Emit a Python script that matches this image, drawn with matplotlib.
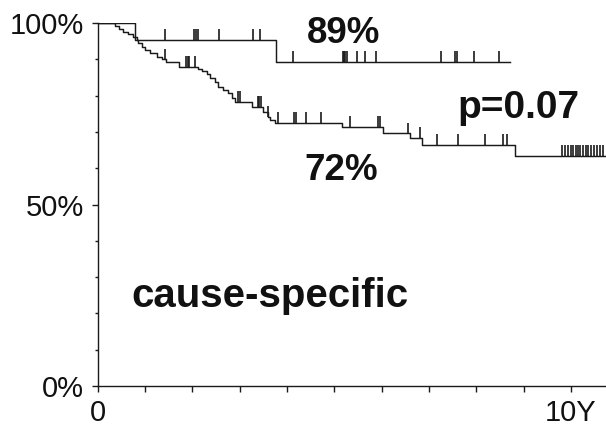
import numpy as np
import matplotlib
matplotlib.use("Agg")
import matplotlib.pyplot as plt
from matplotlib.ticker import FixedLocator, FixedFormatter

# ---- data (years, survival %) ----
upper_t = [0, 0.79, 3.77, 8.71]
upper_s = [100, 95.3, 89.3, 89.3]
upper_cens = [0.55, 0.63, 0.69, 1.43, 2.04, 2.08, 2.12, 2.57, 3.29, 3.43,
              4.13, 5.18, 5.21, 5.23, 5.27, 5.48, 5.65, 5.88, 7.26, 7.55,
              7.59, 7.95, 8.48]

lower_t = [0, 0.37, 0.45, 0.54, 0.64, 0.75, 0.83, 0.86, 0.93, 1.00,
           1.11, 1.25, 1.36, 1.45, 1.71, 2.12, 2.21, 2.31, 2.38, 2.48,
           2.54, 2.65, 2.76, 2.84, 2.90, 3.26, 3.50, 3.59, 3.64, 3.75,
           5.16, 6.03, 6.60, 6.85, 8.82, 10.74]
lower_s = [100, 99.2, 98.3, 97.6, 96.9, 96.2, 95.3, 94.4, 93.5, 92.6,
           91.7, 90.7, 90.0, 89.3, 88.0, 87.4, 86.8, 86.0, 84.8, 83.7,
           82.4, 81.5, 80.7, 79.3, 78.2, 76.9, 75.5, 74.1, 73.3, 72.5,
           71.4, 69.6, 68.3, 66.4, 63.4, 63.4]
lower_cens = [1.43, 1.87, 1.90, 1.93, 2.06, 2.97, 3.01, 3.38, 3.42, 3.46,
              3.61, 3.81, 4.15, 4.19, 4.40, 4.72, 5.33, 5.93, 5.97, 6.56,
              6.81, 7.17, 7.61, 8.18, 8.56, 8.65,
              9.82, 9.88, 9.94, 10.00, 10.05, 10.10, 10.15, 10.20, 10.26,
              10.32, 10.37, 10.42, 10.48, 10.55, 10.62, 10.68]

y_ticks = [0, 50, 100]
y_labels = ["0%", "50%", "100%"]
y_minor = [10, 20, 30, 40, 60, 70, 80, 90]
x_ticks = [0, 1, 2, 3, 4, 5, 6, 7, 8, 9, 10]
x_labels = ["0", "", "", "", "", "", "", "", "", "", "10Y"]

annotations = [("89%", 5.19, 94.4), ("72%", 5.15, 56.7), ("p=0.07", 8.90, 73.8),
               ("cause-specific", 3.64, 21.8)]
ann_sizes = [26.5, 26.5, 28, 29]

# ---- figure ----
fig = plt.figure(figsize=(6.06, 4.28), dpi=100)
ax = fig.add_axes([0.161, 0.098, 0.839, 0.848])
col = "#1a1a1a"
lw = 1.05


def surv_at(ts, ss, t):
    idx = np.searchsorted(ts, t, side="right") - 1
    return np.asarray(ss)[idx]


for ts, ss, cens in [(upper_t, upper_s, upper_cens), (lower_t, lower_s, lower_cens)]:
    ax.step(ts, ss, where="post", color=col, lw=lw)
    cs = surv_at(np.asarray(ts), ss, np.asarray(cens))
    ax.vlines(cens, cs, cs + 3.0, color=col, lw=1.2)

ax.set_xlim(0, 10.74)
ax.set_ylim(0, 100)

for s in ["top", "right"]:
    ax.spines[s].set_visible(False)
ax.spines["left"].set_bounds(0, 100)
for s in ["left", "bottom"]:
    ax.spines[s].set_color(col)
    ax.spines[s].set_linewidth(1.0)

tick_family = ["Liberation Sans Narrow", "Liberation Sans"]
ax.yaxis.set_major_locator(FixedLocator(y_ticks))
ax.yaxis.set_major_formatter(FixedFormatter(y_labels))
ax.yaxis.set_minor_locator(FixedLocator(y_minor))
ax.xaxis.set_major_locator(FixedLocator(x_ticks))
ax.xaxis.set_major_formatter(FixedFormatter(x_labels))
ax.tick_params(axis="both", which="major", direction="out", length=4,
               width=1.0, color=col, labelcolor="#111111")
ax.tick_params(axis="y", which="minor", direction="out", length=2.5, width=1.0, color=col)
ax.tick_params(axis="y", which="major", pad=6)
ax.tick_params(axis="x", which="major", pad=5)
for lab in ax.get_xticklabels() + ax.get_yticklabels():
    lab.set_fontfamily(tick_family)
    lab.set_fontsize(21)

for (txt, tx, ty), fs in zip(annotations, ann_sizes):
    ax.text(tx, ty, txt, ha="center", va="baseline", fontsize=fs,
            fontweight="bold", family=["Liberation Sans", "DejaVu Sans"], color="#111111")

fig.savefig("out.png", dpi=100)
